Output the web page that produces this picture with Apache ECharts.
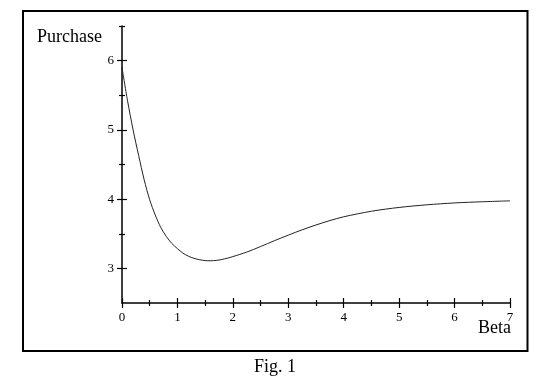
<!DOCTYPE html>
<html>
<head>
<meta charset="utf-8">
<script src="https://cdn.jsdelivr.net/npm/echarts@6/dist/echarts.min.js"></script>
<style>
html,body{margin:0;padding:0;background:#fff;}
#c{width:544px;height:387px;}
</style>
</head>
<body>
<div id="c"></div>
<script>
// Data
var betaValues = [0, 0.1, 0.2, 0.3, 0.4, 0.5, 0.6, 0.7, 0.8, 0.9, 1.0, 1.1, 1.2, 1.3, 1.4, 1.5, 1.6, 1.7, 1.8, 1.9, 2.0, 2.25, 2.5, 2.75, 3.0, 3.25, 3.5, 3.75, 4.0, 4.5, 5.0, 5.5, 6.0, 6.5, 7.0];
var purchaseValues = [5.90, 5.42, 5.00, 4.63, 4.28, 3.99, 3.77, 3.59, 3.46, 3.36, 3.285, 3.22, 3.175, 3.145, 3.125, 3.112, 3.11, 3.115, 3.128, 3.147, 3.17, 3.235, 3.315, 3.40, 3.48, 3.557, 3.627, 3.69, 3.745, 3.825, 3.88, 3.918, 3.945, 3.962, 3.975];
var xTickLabels = ['0', '1', '2', '3', '4', '5', '6', '7'];
var yMajorTicks = [3, 4, 5, 6];
var yMinorTicks = [3.5, 4.5, 5.5, 6.5];
var yAxisTitle = 'Purchase';
var xAxisTitle = 'Beta';
var caption = 'Fig. 1';

var font = '"Liberation Serif", "Times New Roman", serif';
var black = '#000';

var seriesData = betaValues.map(function (b, i) { return [b, purchaseValues[i]]; });

function xAx(inside, withLabels) {
  return {
    type: 'value', min: 0, max: 7, interval: 1, position: 'bottom',
    axisLine: { show: withLabels, onZero: false, lineStyle: { color: black, width: 1.5 } },
    axisTick: { show: true, inside: inside, length: 5, lineStyle: { color: black, width: 1.2 } },
    minorTick: { show: true, splitNumber: 2, length: 3, lineStyle: { color: black, width: 1.2 } },
    axisLabel: {
      show: withLabels, margin: 8, color: black, fontFamily: font, fontSize: 13,
      formatter: function (v) { return xTickLabels[Math.round(v)] || ''; }
    },
    splitLine: { show: false }, minorSplitLine: { show: false }
  };
}
function yAx(inside, values, len, withLine, withLabels) {
  return {
    type: 'value', min: 2.5, max: 6.5, position: 'left',
    axisLine: { show: withLine, onZero: false, lineStyle: { color: black, width: 1.5 } },
    axisTick: { show: true, inside: inside, length: len, customValues: values, lineStyle: { color: black, width: 1.2 } },
    axisLabel: {
      show: withLabels, customValues: yMajorTicks, margin: 8, color: black, fontFamily: font, fontSize: 13
    },
    splitLine: { show: false }
  };
}

var chart = echarts.init(document.getElementById('c'), null, { renderer: 'canvas' });
chart.setOption({
  backgroundColor: '#fff',
  animation: false,
  grid: { left: 122, right: 34, top: 26, bottom: 84 },
  xAxis: [xAx(false, true), xAx(true, false)],
  yAxis: [
    yAx(false, yMajorTicks, 5, true, true),
    yAx(true, yMajorTicks, 5, false, false),
    yAx(false, yMinorTicks, 3, false, false),
    yAx(true, yMinorTicks, 3, false, false)
  ],
  series: [{
    type: 'line', xAxisIndex: 0, yAxisIndex: 0,
    data: seriesData, smooth: 0.3, showSymbol: false,
    lineStyle: { color: '#222', width: 1 }
  }],
  graphic: [
    { type: 'rect', shape: { x: 23, y: 11, width: 504.5, height: 340 },
      style: { fill: 'none', stroke: black, lineWidth: 2 } },
    { type: 'text', x: 37, y: 37, style: { text: yAxisTitle, font: '18px ' + font, fill: black, verticalAlign: 'middle' } },
    { type: 'text', x: 511, y: 328, style: { text: xAxisTitle, font: '18px ' + font, fill: black, align: 'right', verticalAlign: 'middle' } },
    { type: 'text', x: 275, y: 367, style: { text: caption, font: '18px ' + font, fill: black, align: 'center', verticalAlign: 'middle' } }
  ]
});
</script>
</body>
</html>
